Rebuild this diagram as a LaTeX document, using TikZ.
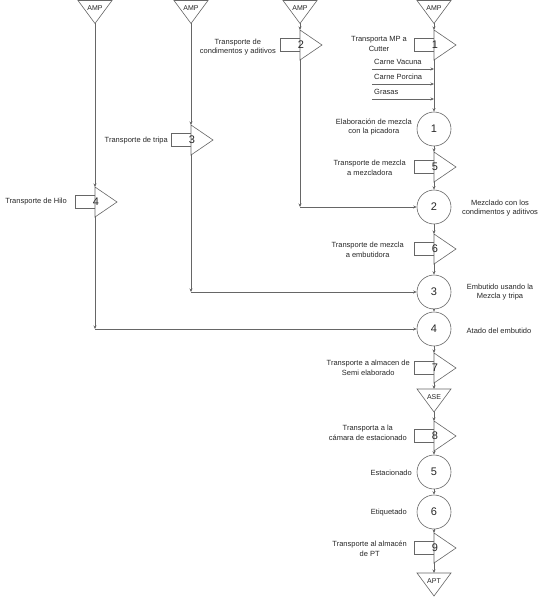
\documentclass[tikz,border=0pt]{standalone}
\usepackage{fontspec}
\setmainfont{Liberation Sans}
\usetikzlibrary{
	arrows.meta,
	math
}
\definecolor{trazo}{gray}{0.4}
\definecolor{letra}{gray}{0.15}

% símbolo de transporte: nombre, x, y (centro), número
\newcommand{\transporte}[4]{
	\draw[simbolo] (#2-20,#3-6.5) rectangle (#2,#3+6.5);
	\draw[simbolo] (#2,#3-15) -- (#2+22,#3) -- (#2,#3+15) -- cycle;
	\node[numero] (#1) at (#2+1,#3) {#4};
	\coordinate (#1-n) at (#2,#3-15);
	\coordinate (#1-s) at (#2,#3+15);
}

% símbolo de almacén: nombre, x, y (borde superior), texto
\newcommand{\almacen}[4]{
	\draw[simbolo] (#2-17,#3) -- (#2+17,#3) -- (#2,#3+23) -- cycle;
	\node[rotulo] (#1) at (#2,#3+8) {#4};
	\coordinate (#1-n) at (#2,#3);
	\coordinate (#1-s) at (#2,#3+23);
}

\begin{document}
\begin{tikzpicture}[
	x = 1pt, y = -1pt,
	simbolo/.style = {draw = trazo, line width = 0.6pt, fill = white},
	linea/.style = {draw = trazo, line width = 0.6pt},
	flecha/.style = {linea, -{Stealth[length = 3.5pt, width = 3pt]}},
	operacion/.style = {
		circle, draw = trazo, line width = 0.6pt,
		minimum size = 34pt, inner sep = 0pt,
		font = \fontsize{11}{11}\selectfont, text = letra
	},
	numero/.style = {inner sep = 0pt, font = \fontsize{11}{11}\selectfont, text = letra},
	rotulo/.style = {inner sep = 0pt, font = \fontsize{7}{7}\selectfont, text = letra},
	texto/.style = {inner sep = 1pt, align = center, font = \fontsize{7.5}{9.5}\selectfont, text = letra},
]

	% márgenes del dibujo
	\useasboundingbox (0,0) rectangle (543,599);

	% abscisas de las cuatro columnas
	\tikzmath{ \xa = 95; \xb = 191; \xc = 300; \xd = 434; }

	% almacenes de materia prima
	\almacen{AMPa}{\xa}{0.5}{AMP}
	\almacen{AMPb}{\xb}{0.5}{AMP}
	\almacen{AMPc}{\xc}{0.5}{AMP}
	\almacen{AMPd}{\xd}{0.5}{AMP}

	% columna principal
	\transporte{T1}{\xd}{45}{1}
	\node[operacion] (C1) at (\xd,129) {1};
	\transporte{T5}{\xd}{167}{5}
	\node[operacion] (C2) at (\xd,207) {2};
	\transporte{T6}{\xd}{249}{6}
	\node[operacion] (C3) at (\xd,292) {3};
	\node[operacion] (C4) at (\xd,329) {4};
	\transporte{T7}{\xd}{368}{7}
	\almacen{ASE}{\xd}{389}{ASE}
	\transporte{T8}{\xd}{436}{8}
	\node[operacion] (C5) at (\xd,472) {5};
	\node[operacion] (C6) at (\xd,512) {6};
	\transporte{T9}{\xd}{548}{9}
	\almacen{APT}{\xd}{573}{APT}

	% columnas laterales
	\transporte{T2}{\xc}{45}{2}
	\transporte{T3}{\xb}{140}{3}
	\transporte{T4}{\xa}{202}{4}

	% flujo principal
	\foreach \a/\b in {AMPd-s/T1-n, T1-s/C1, C1/T5-n, T5-s/C2, C2/T6-n,
			T6-s/C3, C3/C4, C4/T7-n, T7-s/ASE-n, ASE-s/T8-n,
			T8-s/C5, C5/C6, C6/T9-n, T9-s/APT-n}
		\draw[flecha] (\a) -- (\b);

	% entradas de materia prima
	\foreach \y/\nom/\txt in {69/vac/Carne Vacuna, 84/por/Carne Porcina, 99/gra/Grasas} {
		\coordinate (\nom) at (372,\y);
		\draw[flecha] (\nom) -- (\nom -| T1-s);
		\node[texto, anchor = base west] (l\nom) at (373,\y-4) {\txt};
	}

	% flujos laterales
	\foreach \a/\t/\c in {AMPa/T4/C4, AMPb/T3/C3, AMPc/T2/C2} {
		\coordinate (\t-q) at (\t-s |- \c);
		\draw[flecha] (\a-s) -- (\t-n);
		\draw[flecha] (\t-s) -- (\t-q);
		\draw[flecha] (\t-q) -- (\c);
	}

	% etiquetas a la izquierda
	\node[texto, anchor = east] (lT1) at (408,44) {Transporta MP a\\Cutter};
	\node[texto, anchor = east] (lC1) at (413,127) {Elaboración de mezcla\\con la picadora};
	\node[texto, anchor = east] (lT5) at (407,168) {Transporte de mezcla\\a mezcladora};
	\node[texto, anchor = east] (lT6) at (405,250) {Transporte de mezcla\\a embutidora};
	\node[texto, anchor = east] (lT7) at (411,368) {Transporte a almacen de\\Semi elaborado};
	\node[texto, anchor = east] (lT8) at (408,433) {Transporta a la\\cámara de estacionado};
	\node[texto, anchor = east] (lC5) at (413,473) {Estacionado};
	\node[texto, anchor = east] (lC6) at (408,513) {Etiquetado};
	\node[texto, anchor = east] (lT9) at (408,549) {Transporte al almacén\\de PT};
	\node[texto, anchor = east] (lT2) at (277,47) {Transporte de\\condimentos y aditivos};
	\node[texto, anchor = east] (lT3) at (169,141) {Transporte de tripa};
	\node[texto, anchor = east] (lT4) at (68,202) {Transporte de Hilo};

	% etiquetas a la derecha
	\node[texto] (lC2) at (500,208) {Mezclado con los\\condimentos y aditivos};
	\node[texto] (lC3) at (500,292) {Embutido usando la\\Mezcla y tripa};
	\node[texto] (lC4) at (499,331) {Atado del embutido};

\end{tikzpicture}
\end{document}
